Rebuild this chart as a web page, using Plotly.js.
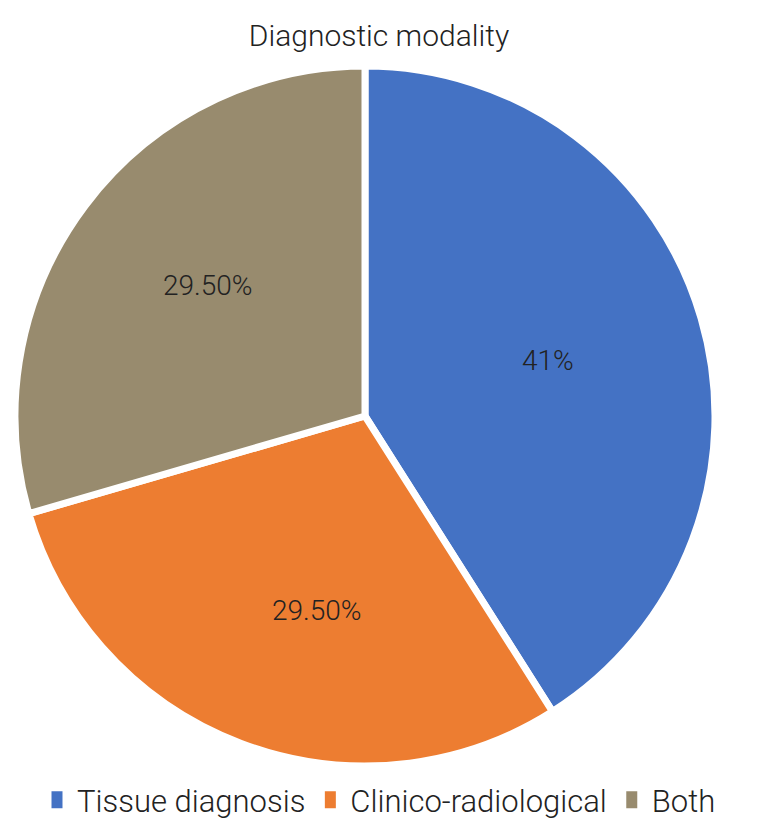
<!DOCTYPE html>
<html>
<head>
<meta charset="utf-8">
<script src="https://cdn.plot.ly/plotly-3.0.1.min.js"></script>
<style>
  html, body { margin: 0; padding: 0; background: #fff; }
  #chart { width: 758px; height: 839px; }
</style>
</head>
<body>
<div id="chart"></div>
<script>
const categories = ['Tissue diagnosis', 'Clinico-radiological', 'Both']
const shares = [41, 29.5, 29.5]
const shareLabels = ['41%', '29.50%', '29.50%']
const sliceColors = ['#4472C4', '#ED7D31', '#988B6E']

const FONT = '"Roboto", "Liberation Sans Narrow", sans-serif'

// where the original chart put each slice label (paper px)
const labelSpots = [[548, 360], [317, 610], [208, 285]]

const data = [{
  type: 'pie',
  labels: categories,
  values: shares,
  textinfo: 'none',
  hoverinfo: 'label+percent',
  sort: false,
  direction: 'clockwise',
  rotation: 0,
  marker: {
    colors: sliceColors,
    line: { color: '#ffffff', width: 7 }
  },
  domain: {
    x: [(365 - 350) / 758, (365 + 350) / 758],
    y: [1 - 767 / 839, 1 - 65 / 839]
  }
}]

const annotations = shareLabels.map((t, i) => ({
  text: t,
  xref: 'paper',
  yref: 'paper',
  x: labelSpots[i][0] / 758,
  y: 1 - labelSpots[i][1] / 839,
  xanchor: 'center',
  yanchor: 'middle',
  showarrow: false,
  font: { family: FONT, size: 28, weight: 300, color: '#222222' }
}))

const layout = {
  width: 758,
  height: 839,
  margin: { l: 0, r: 0, t: 0, b: 0 },
  paper_bgcolor: '#ffffff',
  font: { family: FONT, color: '#222222' },
  title: {
    text: 'Diagnostic modality',
    font: { family: FONT, size: 30, weight: 300, color: '#222222' },
    x: 0.5,
    xanchor: 'center',
    y: 1 - 35 / 839,
    yanchor: 'middle'
  },
  annotations,
  showlegend: true,
  legend: {
    orientation: 'h',
    x: 0.5,
    xanchor: 'center',
    y: 1 - 800 / 839,
    yanchor: 'middle',
    font: { family: FONT, size: 31, weight: 300, color: '#222222' },
    itemwidth: 30,
    traceorder: 'normal'
  }
}

Plotly.newPlot('chart', data, layout, { displayModeBar: false }).then(gd => {
  // legend swatches in the original are tall blocks, not small squares
  gd.querySelectorAll('.legendpoints path').forEach(p => {
    p.setAttribute('d', 'M8,11H-8V-11H8Z')
  })
})
</script>
</body>
</html>
